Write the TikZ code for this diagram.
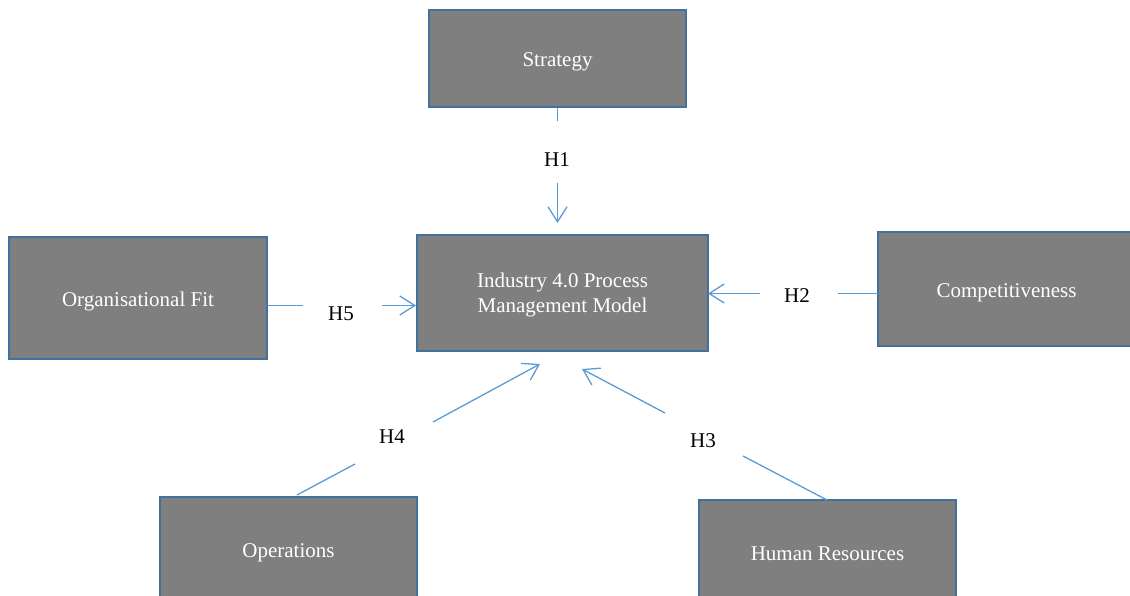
\documentclass[tikz,border=0pt]{standalone}
\usepackage{fontspec}
\setmainfont{Liberation Serif}
\usetikzlibrary{arrows.meta}
\definecolor{boxgrey}{HTML}{7F7F7F}
\definecolor{boxblue}{HTML}{41719C}
\definecolor{linkblue}{HTML}{5B9BD5}
\tikzset{
  factor/.style={draw=boxblue, line width=2.8pt, fill=boxgrey, text=white,
    font=\fontsize{21}{25}\selectfont, align=center, inner sep=0pt},
  oneline/.style={factor, text height=20pt, text depth=4pt},
  hlabel/.style={font=\fontsize{21}{25}\selectfont, text=black, inner sep=0pt},
  link/.style={draw=linkblue, line width=1.3pt},
  linkarrow/.style={link, -{Straight Barb[length=15pt,width=19pt,line width=1.3pt]}}
}
\begin{document}
\begin{tikzpicture}[x=1pt,y=-1pt]
\useasboundingbox (0,0) rectangle (1130,596);
% boxes
\node[oneline, minimum width=257pt, minimum height=97pt] (strat) at (557.5,58.5) {Strategy};
\node[factor, text depth=0pt, minimum width=291pt, minimum height=116pt] (core) at (562.5,293) {Industry 4.0 Process\\Management Model};
\node[oneline, minimum width=258pt, minimum height=122pt] (org) at (138,298) {Organisational Fit};
\node[oneline, minimum width=257pt, minimum height=114pt] (comp) at (1006.5,289) {Competitiveness};
\node[oneline, minimum width=257pt, minimum height=104pt] (ops) at (288.5,549) {Operations};
\node[oneline, minimum width=257pt, minimum height=104pt] (hr) at (827.5,552) {Human Resources};
% labels
\node[hlabel] (h1) at (557,160) {H1};
\node[hlabel] (h5) at (341,314) {H5};
\node[hlabel] (h2) at (797,296) {H2};
\node[hlabel] (h4) at (392,437) {H4};
\node[hlabel] (h3) at (703,441) {H3};
% break points
\coordinate (h1a) at (557.5,121);
\coordinate (h1b) at (557.5,183);
\coordinate (h1t) at (557.5,223);
\coordinate (h5s) at (267,305.5);
\coordinate (h5a) at (303,305.5);
\coordinate (h5b) at (382,305.5);
\coordinate (h5t) at (416,305.5);
\coordinate (h2s) at (878,293.5);
\coordinate (h2a) at (838,293.5);
\coordinate (h2b) at (760,293.5);
\coordinate (h2t) at (708,293.5);
\coordinate (h4s) at (297,495);
\coordinate (h4a) at (355,464);
\coordinate (h4b) at (433,422);
\coordinate (h4t) at (540,364);
\coordinate (h3s) at (827,500);
\coordinate (h3a) at (743,456);
\coordinate (h3b) at (665,413);
\coordinate (h3t) at (582,369);
% connectors
\draw[link] (strat.south) -- (h1a);
\draw[linkarrow] (h1b) -- (h1t);
\draw[link] (h5s) -- (h5a);
\draw[linkarrow] (h5b) -- (h5t);
\draw[link] (h2s) -- (h2a);
\draw[linkarrow] (h2b) -- (h2t);
\draw[link] (h4s) -- (h4a);
\draw[linkarrow] (h4b) -- (h4t);
\draw[link] (h3s) -- (h3a);
\draw[linkarrow] (h3b) -- (h3t);
\end{tikzpicture}
\end{document}
